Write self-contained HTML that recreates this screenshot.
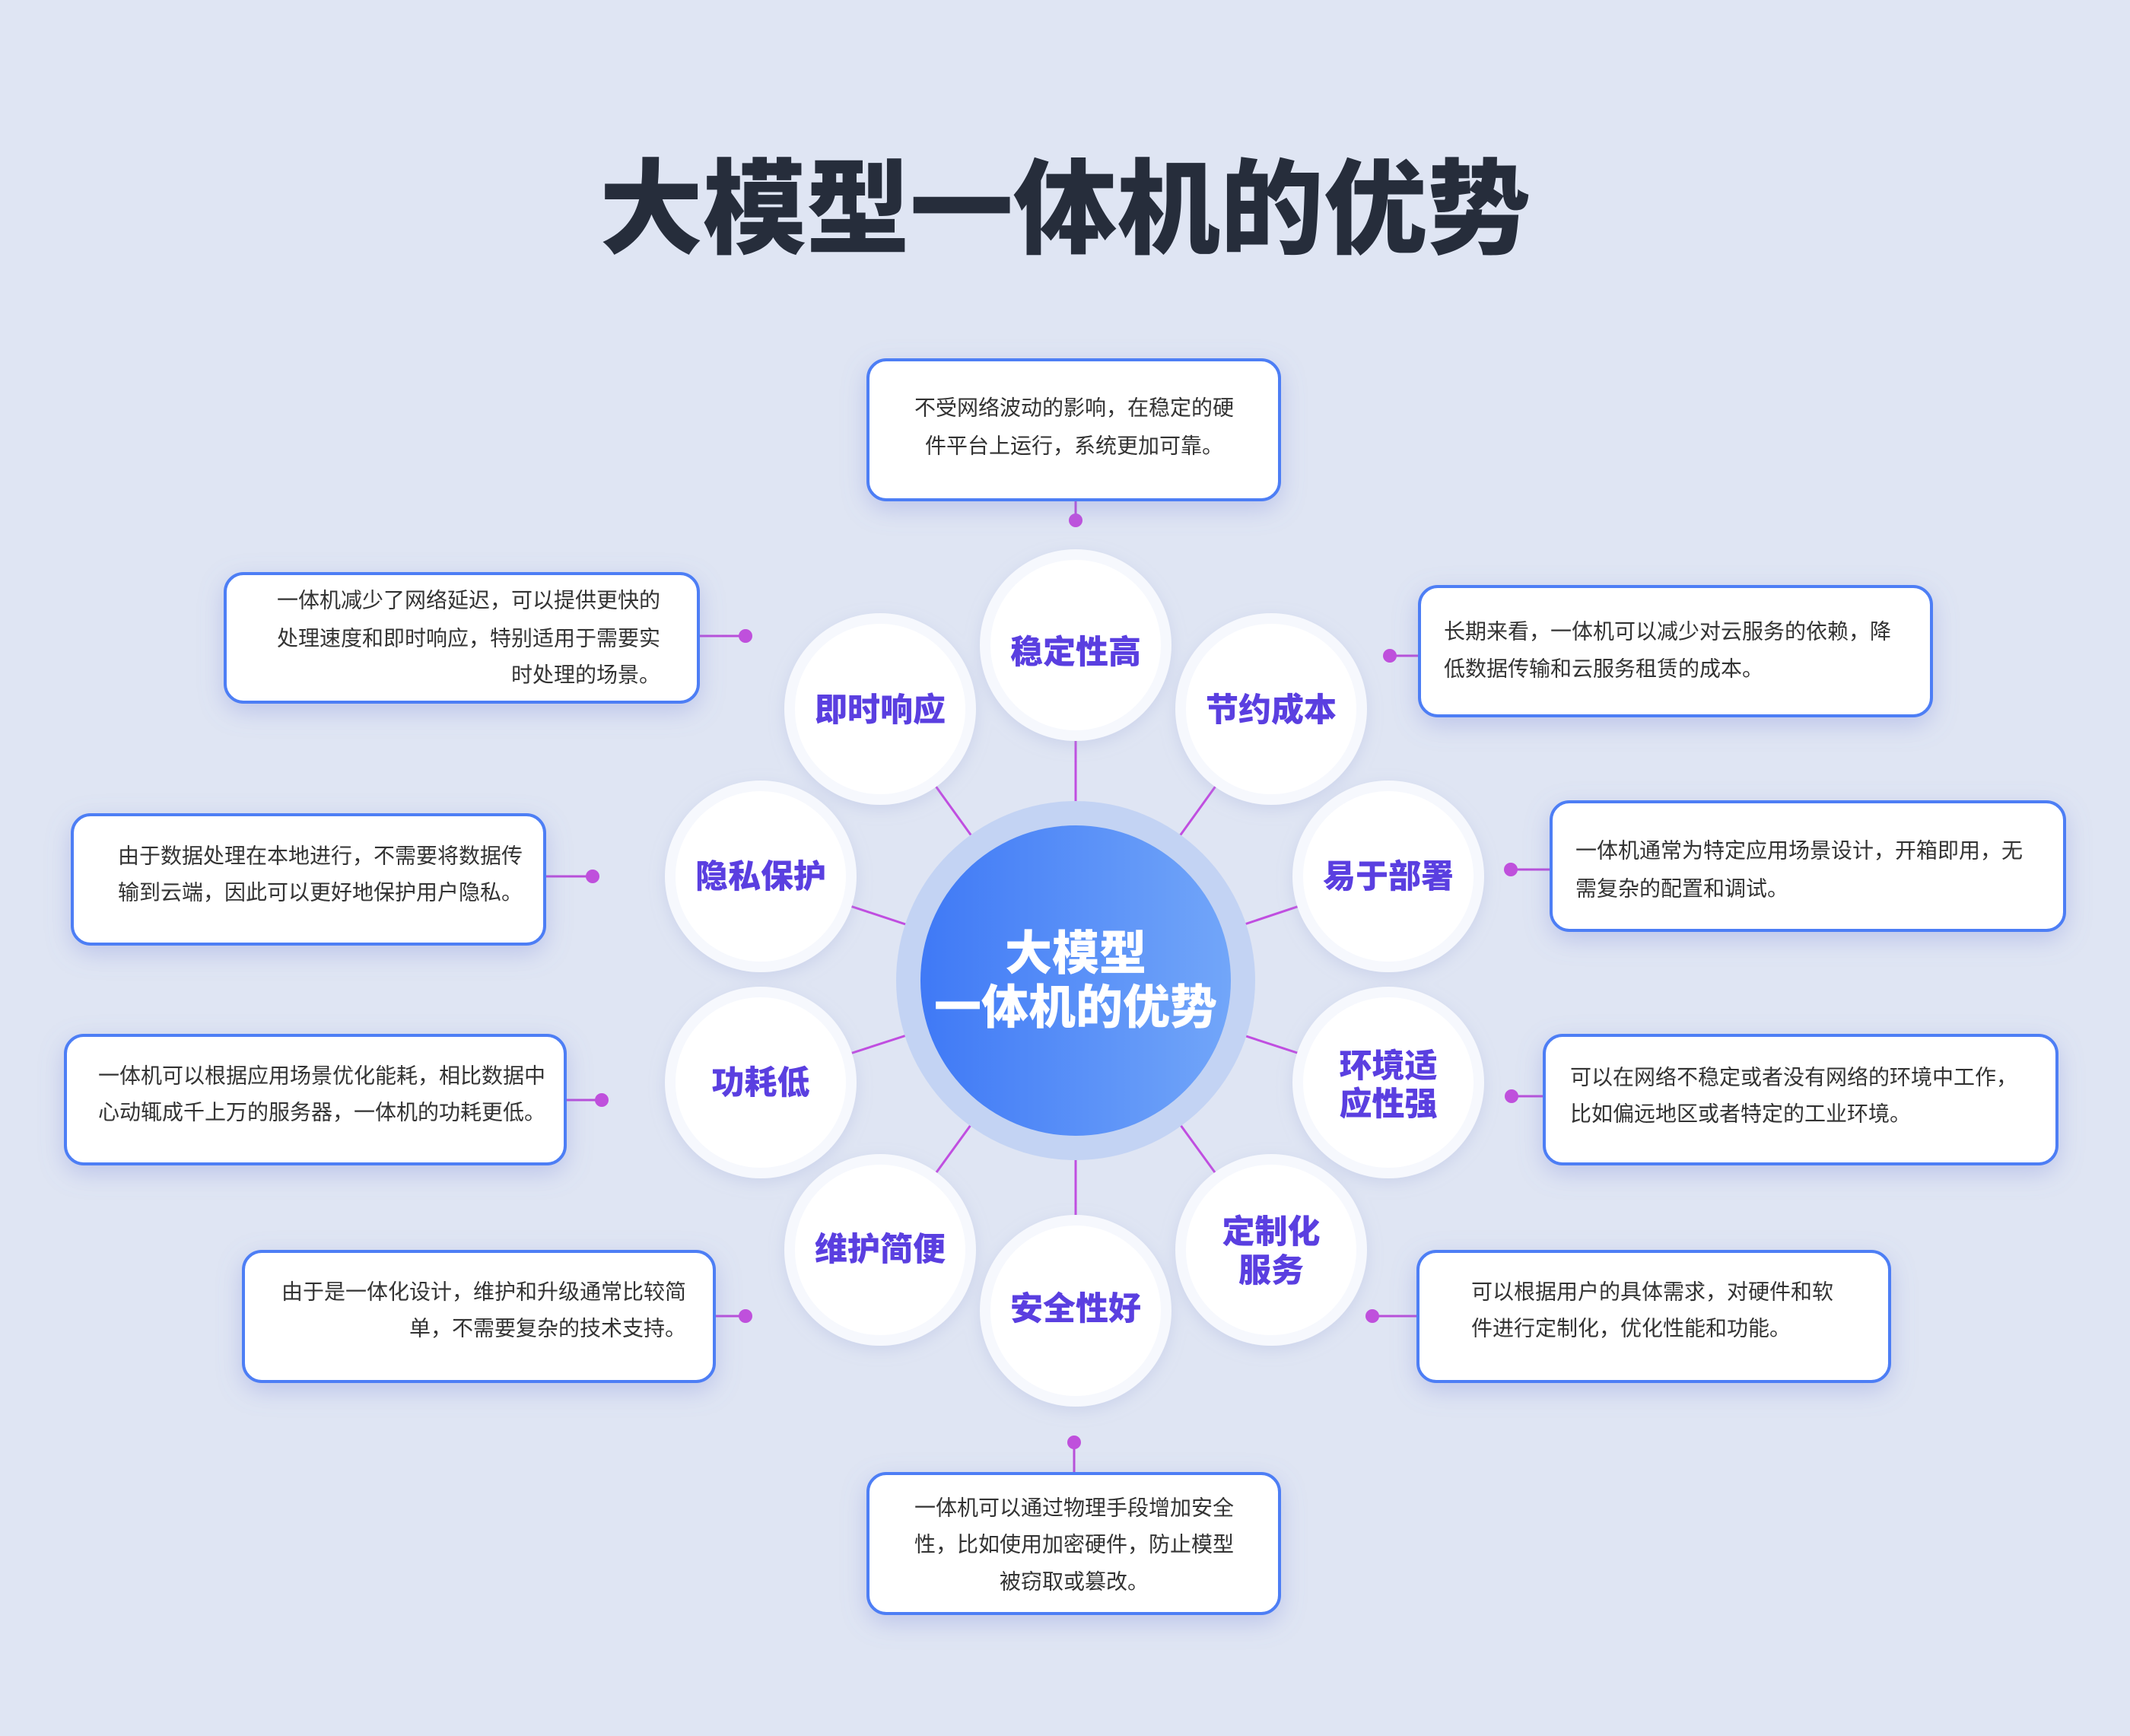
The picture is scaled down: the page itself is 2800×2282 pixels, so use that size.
<!DOCTYPE html>
<html><head><meta charset="utf-8"><style>
html,body{margin:0;padding:0;background:#dfe5f3;}
svg{display:block;}
text{font-family:"Liberation Sans","Noto Sans CJK SC",sans-serif;}
.t{font-size:28px;fill:#333;}
.p{font-size:43px;font-weight:900;fill:#5a3fe0;}
</style></head><body>
<svg width="2800" height="2282" viewBox="0 0 2800 2282" xmlns="http://www.w3.org/2000/svg">
<defs>
<linearGradient id="g" x1="0" x2="1" y1="0" y2="0"><stop offset="0" stop-color="#3f79f6"/><stop offset="1" stop-color="#72a6f9"/></linearGradient>
<filter id="sh" x="-20%" y="-30%" width="140%" height="160%"><feDropShadow dx="0" dy="10" stdDeviation="16" flood-color="#7d88d8" flood-opacity="0.35"/></filter>
<filter id="sh2" x="-30%" y="-30%" width="160%" height="160%"><feDropShadow dx="0" dy="6" stdDeviation="10" flood-color="#a0aad8" flood-opacity="0.3"/></filter>
</defs>
<rect width="2800" height="2282" fill="#dfe5f3"/>
<text x="1400" y="264" text-anchor="middle" dominant-baseline="central" style="font-size:136px;font-weight:900;fill:#262d3b;font-family:'Noto Sans CJK SC',sans-serif">大模型一体机的优势</text>

<g stroke="#c04ee0" stroke-width="3">
<line x1="1414" y1="1289" x2="1414" y2="848"/>
<line x1="1414" y1="1289" x2="1157" y2="932"/>
<line x1="1414" y1="1289" x2="1671" y2="932"/>
<line x1="1414" y1="1289" x2="1000" y2="1152"/>
<line x1="1414" y1="1289" x2="1825" y2="1152"/>
<line x1="1414" y1="1289" x2="1000" y2="1423"/>
<line x1="1414" y1="1289" x2="1825" y2="1423"/>
<line x1="1414" y1="1289" x2="1157" y2="1643"/>
<line x1="1414" y1="1289" x2="1671" y2="1643"/>
<line x1="1414" y1="1289" x2="1414" y2="1723"/>
</g>
<g stroke="#b84fd9" stroke-width="3">
<line x1="1414" y1="657" x2="1414" y2="684"/>
<line x1="918" y1="836" x2="980" y2="836"/>
<line x1="1866" y1="862" x2="1827" y2="862"/>
<line x1="716" y1="1152" x2="779" y2="1152"/>
<line x1="2039" y1="1143" x2="1986" y2="1143"/>
<line x1="743" y1="1446" x2="791" y2="1446"/>
<line x1="2030" y1="1441" x2="1987" y2="1441"/>
<line x1="939" y1="1730" x2="980" y2="1730"/>
<line x1="1864" y1="1730" x2="1804" y2="1730"/>
<line x1="1412" y1="1937" x2="1412" y2="1896"/>
</g>
<g fill="#bf50dc">
<circle cx="1414" cy="684" r="9"/><circle cx="980" cy="836" r="9"/><circle cx="1827" cy="862" r="9"/>
<circle cx="779" cy="1152" r="9"/><circle cx="1986" cy="1143" r="9"/><circle cx="791" cy="1446" r="9"/>
<circle cx="1987" cy="1441" r="9"/><circle cx="980" cy="1730" r="9"/><circle cx="1804" cy="1730" r="9"/>
<circle cx="1412" cy="1896" r="9"/>
</g>

<circle cx="1414" cy="1289" r="236" fill="#c3d3f3"/>
<circle cx="1414" cy="1289" r="204" fill="url(#g)"/>
<text x="1414" y="1254" text-anchor="middle" dominant-baseline="central" style="font-size:62px;font-weight:900;fill:#fff">大模型</text>
<text x="1414" y="1325" text-anchor="middle" dominant-baseline="central" style="font-size:62px;font-weight:900;fill:#fff">一体机的优势</text>

<g filter="url(#sh2)">
<g fill="#f6f8fd">
<circle cx="1414" cy="848" r="126"/><circle cx="1157" cy="932" r="126"/><circle cx="1671" cy="932" r="126"/>
<circle cx="1000" cy="1152" r="126"/><circle cx="1825" cy="1152" r="126"/><circle cx="1000" cy="1423" r="126"/>
<circle cx="1825" cy="1423" r="126"/><circle cx="1157" cy="1643" r="126"/><circle cx="1671" cy="1643" r="126"/>
<circle cx="1414" cy="1723" r="126"/>
</g></g>
<g fill="#fff">
<circle cx="1414" cy="848" r="112"/><circle cx="1157" cy="932" r="112"/><circle cx="1671" cy="932" r="112"/>
<circle cx="1000" cy="1152" r="112"/><circle cx="1825" cy="1152" r="112"/><circle cx="1000" cy="1423" r="112"/>
<circle cx="1825" cy="1423" r="112"/><circle cx="1157" cy="1643" r="112"/><circle cx="1671" cy="1643" r="112"/>
<circle cx="1414" cy="1723" r="112"/>
</g>
<g class="p" text-anchor="middle" dominant-baseline="central">
<text class="p" x="1414" y="858">稳定性高</text>
<text class="p" x="1157" y="934">即时响应</text>
<text class="p" x="1671" y="934">节约成本</text>
<text class="p" x="1000" y="1153">隐私保护</text>
<text class="p" x="1825" y="1153">易于部署</text>
<text class="p" x="1000" y="1424">功耗低</text>
<text class="p" x="1825" y="1402">环境适</text>
<text class="p" x="1825" y="1452">应性强</text>
<text class="p" x="1157" y="1643">维护简便</text>
<text class="p" x="1671" y="1620">定制化</text>
<text class="p" x="1671" y="1671">服务</text>
<text class="p" x="1414" y="1721">安全性好</text>
</g>

<g fill="#fff" stroke="#4d7ef5" stroke-width="4" filter="url(#sh)">
<rect x="1141" y="473" width="541" height="184" rx="24"/>
<rect x="296" y="754" width="622" height="169" rx="24"/>
<rect x="1866" y="771" width="673" height="170" rx="24"/>
<rect x="95" y="1071" width="621" height="170" rx="24"/>
<rect x="2039" y="1054" width="675" height="169" rx="24"/>
<rect x="86" y="1361" width="657" height="169" rx="24"/>
<rect x="2030" y="1361" width="674" height="169" rx="24"/>
<rect x="320" y="1645" width="619" height="171" rx="24"/>
<rect x="1864" y="1645" width="620" height="171" rx="24"/>
<rect x="1141" y="1937" width="541" height="184" rx="24"/>
</g>
<g dominant-baseline="central">
<text class="t" x="1412" y="536" text-anchor="middle">不受网络波动的影响，在稳定的硬</text>
<text class="t" x="1412" y="586" text-anchor="middle">件平台上运行，系统更加可靠。</text>
<text class="t" x="868" y="789" text-anchor="end">一体机减少了网络延迟，可以提供更快的</text>
<text class="t" x="868" y="839" text-anchor="end">处理速度和即时响应，特别适用于需要实</text>
<text class="t" x="868" y="887" text-anchor="end">时处理的场景。</text>
<text class="t" x="1898" y="830">长期来看，一体机可以减少对云服务的依赖，降</text>
<text class="t" x="1898" y="879">低数据传输和云服务租赁的成本。</text>
<text class="t" x="155" y="1125">由于数据处理在本地进行，不需要将数据传</text>
<text class="t" x="155" y="1173">输到云端，因此可以更好地保护用户隐私。</text>
<text class="t" x="2071" y="1118">一体机通常为特定应用场景设计，开箱即用，无</text>
<text class="t" x="2071" y="1168">需复杂的配置和调试。</text>
<text class="t" x="129" y="1414">一体机可以根据应用场景优化能耗，相比数据中</text>
<text class="t" x="129" y="1462">心动辄成千上万的服务器，一体机的功耗更低。</text>
<text class="t" x="2064" y="1416">可以在网络不稳定或者没有网络的环境中工作，</text>
<text class="t" x="2064" y="1464">比如偏远地区或者特定的工业环境。</text>
<text class="t" x="902" y="1698" text-anchor="end">由于是一体化设计，维护和升级通常比较简</text>
<text class="t" x="902" y="1746" text-anchor="end">单，不需要复杂的技术支持。</text>
<text class="t" x="1934" y="1698">可以根据用户的具体需求，对硬件和软</text>
<text class="t" x="1934" y="1746">件进行定制化，优化性能和功能。</text>
<text class="t" x="1412" y="1982" text-anchor="middle">一体机可以通过物理手段增加安全</text>
<text class="t" x="1412" y="2030" text-anchor="middle">性，比如使用加密硬件，防止模型</text>
<text class="t" x="1412" y="2079" text-anchor="middle">被窃取或篡改。</text>
</g>
</svg>
</body></html>
